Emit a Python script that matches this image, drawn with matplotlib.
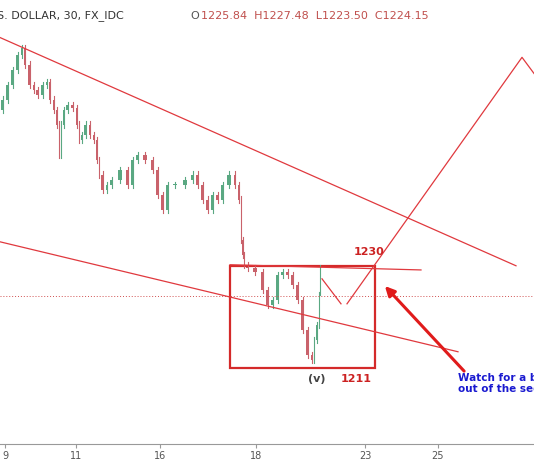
import matplotlib
matplotlib.use('Agg')
import matplotlib.pyplot as plt

# closes (x in chart time units, price in USD)
bar_x = [0, 5, 10, 15, 20, 23, 27, 32, 35, 40, 45, 48, 52, 55, 58, 60, 62, 65, 70, 75,
         78, 80, 83, 88, 92, 95, 98, 100, 105, 108, 115, 125, 130, 135, 140, 150, 155, 160,
         165, 170, 180, 190, 195, 200, 205, 210, 215, 220, 225, 233, 237, 240, 242, 243,
         245, 250, 260, 265, 270, 275, 280, 285, 290, 295, 300, 305, 310, 313, 315, 318, 320]
closes = [1260.3, 1262.3, 1265.1, 1268.0, 1270.9, 1272.2, 1269.0, 1265.1, 1264.2, 1263.2,
          1265.1, 1265.7, 1262.3, 1260.3, 1257.5, 1251.7, 1257.5, 1260.3, 1261.3, 1260.7,
          1257.5, 1254.6, 1255.5, 1257.5, 1255.5, 1254.6, 1250.7, 1247.9, 1245.0, 1245.9,
          1246.9, 1248.8, 1245.9, 1250.7, 1251.7, 1250.7, 1248.8, 1244.0, 1241.1, 1245.9,
          1245.9, 1246.9, 1247.9, 1245.9, 1243.1, 1241.1, 1244.0, 1243.1, 1245.9, 1247.9,
          1245.9, 1243.1, 1235.4, 1232.5, 1230.6, 1230.0, 1229.2, 1225.8, 1222.9, 1223.9,
          1228.7, 1229.2, 1228.7, 1226.7, 1223.9, 1218.1, 1213.3, 1212.3, 1216.2, 1219.1, 1224.8]
tick_pos = [5, 76, 160, 256, 365, 438]
tick_labels = ['9', '11', '16', '18', '23', '25']
last_price = 1224.6

RED = '#e0393e'
fig = plt.figure(figsize=(5.34, 4.62), dpi=100)
ax = fig.add_axes([0, 18 / 462, 1, 444 / 462])
ax.set_xlim(0, 534)
ax.set_ylim(1196.2, 1281.4)
for s in ['top', 'left', 'right']:
    ax.spines[s].set_visible(False)
ax.spines['bottom'].set_color('#999999')
ax.set_yticks([])
ax.set_xticks(tick_pos)
ax.set_xticklabels(tick_labels, fontsize=7, color='#555555')
ax.tick_params(axis='x', length=3, color='#999999', pad=2)

# candles
for i in range(1, len(closes)):
    o, c = closes[i - 1], closes[i]
    col = '#5aa882' if c >= o else '#c9626b'
    x0, x1 = bar_x[i - 1], bar_x[i]
    xm = (x0 + x1) / 2
    ax.plot([xm, xm], [min(o, c) - 0.6, max(o, c) + 0.6], color=col, lw=0.8)
    ax.bar(xm, abs(c - o) or 0.2, bottom=min(o, c), width=(x1 - x0) * 0.45, color=col, lw=0)
ax.plot([320, 320], [1224.8, 1230.6], color='#5aa882', lw=0.8)

# last price line
ax.axhline(last_price, color='#d05050', lw=0.7, ls=(0, (1, 2)))

# trend lines
ax.plot([0, 516], [1274.2, 1230.4], color=RED, lw=0.9)
ax.plot([0, 458], [1235.0, 1213.9], color=RED, lw=0.9)
ax.plot([230, 421], [1230.6, 1229.6], color=RED, lw=0.9)
ax.add_patch(plt.Rectangle((230, 1210.8), 145, 19.6, fill=False, ec='#d42a2a', lw=1.6))
ax.plot([322, 341], [1227.9, 1223.1], color=RED, lw=0.9)
ax.plot([347, 522, 534], [1223.1, 1270.4, 1267.3], color=RED, lw=0.9)
ax.annotate('', xy=(383, 1226.9), xytext=(466, 1209.8),
            arrowprops=dict(arrowstyle='-|>', color='#e01b1b', lw=2.2, mutation_scale=14))

ax.text(369, 1232.5, '1230', color='#cc2222', fontsize=8, fontweight='bold', ha='center')
ax.text(356, 1208.6, '1211', color='#cc2222', fontsize=8, fontweight='bold', ha='center', va='center')
ax.text(317, 1208.6, '(v)', color='#444444', fontsize=8, fontweight='bold', ha='center', va='center')
ax.text(458, 1207.8, 'Watch for a break\nout of the sequence', color='#1a1ad0', fontsize=7.5,
        fontweight='bold', va='center', linespacing=1.1)

# header
fig.text(-0.005, 1 - 16 / 462, 'S. DOLLAR, 30, FX_IDC', fontsize=8, color='#333333', va='center')
fig.text(190 / 534, 1 - 16 / 462, 'O', fontsize=8, color='#555555', va='center')
fig.text(201 / 534, 1 - 16 / 462, '1225.84  H1227.48  L1223.50  C1224.15', fontsize=8,
         color='#c0504d', va='center')

fig.savefig('out.png', dpi=100, facecolor='white')
